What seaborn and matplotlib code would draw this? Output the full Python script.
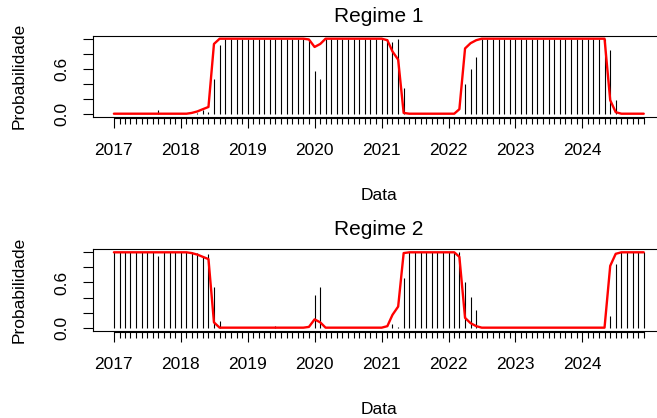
import numpy as np
import pandas as pd
import seaborn as sns
import matplotlib
matplotlib.use("Agg")
import matplotlib.pyplot as plt
import matplotlib.dates as mdates
from matplotlib.ticker import FixedLocator

# monthly dates of the series
datas = pd.date_range("2017-01-01", periods=96, freq="MS")
anos = ["2017", "2018", "2019", "2020", "2021", "2022", "2023", "2024"]
titulos = ["Regime 1", "Regime 2"]

# filtered probabilities (black bars)
filtrada_1 = ([0.0] * 8 + [0.05] + [0.0] * 6 + [0.01, 0.05, 0.02, 0.46, 0.91]
              + [1.0] * 16 + [0.57, 0.46] + [1.0] * 11 + [1.0, 0.95, 0.99, 0.34]
              + [0.0] * 9 + [0.0, 0.40, 0.59, 0.76] + [1.0] * 23 + [0.85, 0.18] + [0.0] * 5)
filtrada_2 = ([1.0] * 8 + [0.95] + [1.0] * 6 + [0.99, 0.95, 0.98, 0.54, 0.09]
              + [0.0] * 9 + [0.02] + [0.0] * 6 + [0.43, 0.54] + [0.0] * 11 + [0.0, 0.05, 0.01, 0.66]
              + [1.0] * 9 + [1.0, 0.60, 0.41, 0.24] + [0.0] * 23 + [0.15, 0.84] + [1.0] * 5)

# smoothed probabilities (red line)
suavizada_1 = ([0.0] * 14 + [0.01, 0.03, 0.06, 0.09, 0.93] + [1.0] * 16 + [0.99, 0.89, 0.93]
               + [1.0] * 11 + [0.98, 0.83, 0.72, 0.01] + [0.0] * 9 + [0.06, 0.87, 0.94, 0.98]
               + [1.0] * 23 + [0.18, 0.02] + [0.0] * 5)
suavizada_2 = ([1.0] * 14 + [0.99, 0.97, 0.94, 0.91, 0.07] + [0.0] * 16 + [0.01, 0.11, 0.07]
               + [0.0] * 11 + [0.02, 0.17, 0.28, 0.99] + [1.0] * 9 + [0.94, 0.13, 0.06, 0.02]
               + [0.0] * 23 + [0.82, 0.98] + [1.0] * 5)

sns.set_style("ticks", {"axes.edgecolor": "black", "xtick.color": "black",
                        "ytick.color": "black", "text.color": "black",
                        "axes.labelcolor": "black"})
plt.rcParams["font.family"] = ["Liberation Sans", "DejaVu Sans"]

x = mdates.date2num(datas)
margem = (x[-1] - x[0]) * 0.04
x_anos = mdates.date2num(pd.to_datetime([a + "-01-01" for a in anos]))

fig = plt.figure(figsize=(6.57, 4.18), dpi=100)
posicoes = [[0.1411, 0.7208, 0.871, 0.1938], [0.1411, 0.2089, 0.871, 0.1947]]

for pos, titulo, filt, suav in zip(posicoes, titulos, [filtrada_1, filtrada_2],
                                   [suavizada_1, suavizada_2]):
    ax = fig.add_axes(pos)
    ax.vlines(x, 0, filt, color="black", lw=0.8)
    sns.lineplot(x=x, y=suav, color="red", lw=1.7, ax=ax)
    ax.set_xlim(x[0] - margem, x[-1] + margem)
    ax.set_ylim(-0.04, 1.04)
    for s in ax.spines.values():
        s.set_visible(True)
        s.set_linewidth(0.8)
    ax.set_xticks([])
    ax.set_xlabel("")
    ax.set_yticks([0, 0.2, 0.4, 0.6, 0.8, 1.0])
    ax.set_yticklabels(["0.0", "", "", "0.6", "", ""], va="center")
    ax.tick_params(axis="y", length=7.5, width=0.8, labelsize=12.5, pad=9, labelrotation=90)
    ax.set_ylabel("Probabilidade", fontsize=12.5, labelpad=20)
    ax.set_title(titulo, fontsize=15, pad=10)

    # date axis drawn slightly below the box, as in R
    sec = ax.secondary_xaxis(-0.02)
    sec.set_xticks(x_anos)
    sec.set_xticklabels(anos)
    sec.xaxis.set_minor_locator(FixedLocator(x))
    sec.tick_params(axis="x", which="major", length=7.5, width=0.8, labelsize=12.5, pad=10)
    sec.tick_params(axis="x", which="minor", length=4.3, width=0.8)
    sec.spines["bottom"].set_bounds(x[0], x[-1])
    sec.spines["bottom"].set_linewidth(0.8)
    sec.set_xlabel("Data", fontsize=12.5, labelpad=22)

fig.savefig("out.png", dpi=100)
